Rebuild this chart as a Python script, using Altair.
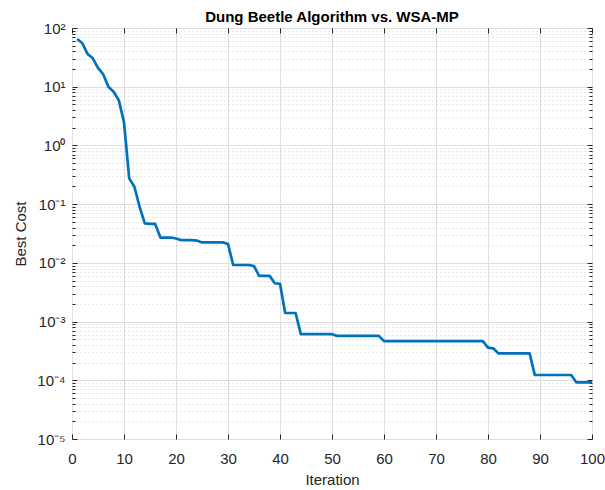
import altair as alt
import pandas as pd

# ---- data ----
iterations = list(range(1, 101))
best_cost = [
    65, 55, 36, 30.5, 21, 16.3, 10, 8.2, 5.9, 2.5,            # 1-10
    0.275, 0.198, 0.090, 0.047, 0.046, 0.046, 0.027, 0.027, 0.027, 0.026,  # 11-20
    0.0244, 0.0244, 0.0244, 0.0240, 0.0223, 0.0223, 0.0223, 0.0223, 0.0223, 0.021,  # 21-30
    0.0092, 0.0092, 0.0092, 0.0092, 0.0088, 0.0060, 0.0060, 0.0060, 0.0045, 0.0044,  # 31-40
    0.0014, 0.0014, 0.0014, 0.00061, 0.00061, 0.00061, 0.00061, 0.00061, 0.00061, 0.00061,  # 41-50
    0.00057, 0.00057, 0.00057, 0.00057, 0.00057, 0.00057, 0.00057, 0.00057, 0.00057, 0.000465,  # 51-60
    0.000465, 0.000465, 0.000465, 0.000465, 0.000465, 0.000465, 0.000465, 0.000465, 0.000465, 0.000465,  # 61-70
    0.000465, 0.000465, 0.000465, 0.000465, 0.000465, 0.000465, 0.000465, 0.000465, 0.000465, 0.00036,  # 71-80
    0.00035, 0.000287, 0.000287, 0.000287, 0.000287, 0.000287, 0.000287, 0.000287, 0.000123, 0.000123,  # 81-90
    0.000123, 0.000123, 0.000123, 0.000123, 0.000123, 0.000123, 0.000092, 0.000092, 0.000092, 0.000092,  # 91-100
]

title_text = "Dung Beetle Algorithm vs. WSA-MP"
x_title = "Iteration"
y_title = "Best Cost"

x_ticks = [0, 10, 20, 30, 40, 50, 60, 70, 80, 90, 100]
y_exponents = [-5, -4, -3, -2, -1, 0, 1, 2]
y_tick_labels = ["10⁻⁵", "10⁻⁴", "10⁻³", "10⁻²", "10⁻¹", "10⁰", "10¹", "10²"]
y_major = [10.0 ** e for e in y_exponents]
y_minor = [m * 10.0 ** e for e in y_exponents[:-1] for m in range(2, 10)]

df = pd.DataFrame({"Iteration": iterations, "BestCost": best_cost})

FONT = "Liberation Sans"
INK = "#262626"
W, H = 520, 411

x_scale = alt.Scale(domain=[0, 100], nice=False, zero=False)
y_scale = alt.Scale(type="log", domain=[1e-5, 1e2], nice=False)

label_lookup = "[" + ",".join("'%s'" % s for s in y_tick_labels) + "]"
y_label_expr = label_lookup + "[round(log(datum.value)/LN10) + 5]"

base = alt.Chart(df)


def x_axis_main():
    return alt.Axis(orient="bottom", values=x_ticks, grid=True, gridColor="#DFDFDF",
                    gridWidth=1, ticks=False, tickSize=0, domain=False,
                    labelFont=FONT, labelFontSize=15, labelColor=INK, labelPadding=12,
                    labelFlush=False, labelOverlap=False,
                    title=x_title, titleFont=FONT, titleFontSize=15, titleColor=INK,
                    titleFontWeight="normal", titlePadding=6)


def y_axis_main():
    return alt.Axis(orient="left", values=y_major, grid=True, gridColor="#DFDFDF",
                    gridWidth=1, ticks=False, tickSize=0, domain=False,
                    labelExpr=y_label_expr, labelFont=FONT, labelFontSize=15,
                    labelColor=INK, labelPadding=7, labelFlush=False, labelOverlap=False,
                    title=y_title, titleFont=FONT, titleFontSize=15, titleColor=INK,
                    titleFontWeight="normal", titlePadding=8)


def tick_axis(orient, values, size):
    return alt.Axis(orient=orient, values=values, grid=False, ticks=True, tickSize=size,
                    tickColor=INK, tickWidth=1, offset=-size, domain=False, labels=False,
                    title=None)


layers = []

# minor dotted grid
layers.append(base.mark_line(opacity=0).encode(
    x=alt.X("Iteration:Q", scale=x_scale, axis=None),
    y=alt.Y("BestCost:Q", scale=y_scale,
            axis=alt.Axis(orient="left", values=y_minor, grid=True, gridColor="#CFCFCF",
                          gridDash=[1, 3], gridWidth=1, ticks=False, tickSize=0,
                          domain=False, labels=False, title=None)),
))

# inward tick layers
tick_specs = [
    ("bottom", "left"),
    ("top", "right"),
]
for xo, yo in tick_specs:
    layers.append(base.mark_line(opacity=0).encode(
        x=alt.X("Iteration:Q", scale=x_scale, axis=tick_axis(xo, x_ticks, 5)),
        y=alt.Y("BestCost:Q", scale=y_scale, axis=tick_axis(yo, y_major, 5)),
    ))
for yo in ["left", "right"]:
    layers.append(base.mark_line(opacity=0).encode(
        x=alt.X("Iteration:Q", scale=x_scale, axis=None),
        y=alt.Y("BestCost:Q", scale=y_scale, axis=tick_axis(yo, y_minor, 3)),
    ))

# main line with labels and major grid
layers.append(base.mark_line(color="#0072BD", strokeWidth=2.7, strokeJoin="round").encode(
    x=alt.X("Iteration:Q", scale=x_scale, axis=x_axis_main()),
    y=alt.Y("BestCost:Q", scale=y_scale, axis=y_axis_main()),
))

chart = alt.layer(*layers).resolve_axis(
    x="independent", y="independent"
).properties(
    width=W, height=H,
    title=alt.TitleParams(title_text, font=FONT, fontSize=15, fontWeight="bold",
                          color="#000000", anchor="middle", offset=-4),
    autosize=alt.AutoSizeParams(type="none"),
    padding={"left": 72, "top": 28, "right": 13, "bottom": 51},
).configure_view(
    stroke=INK, strokeWidth=1
).configure(background="white")

chart.save("out.html", embed_options={"renderer": "svg", "actions": False})
